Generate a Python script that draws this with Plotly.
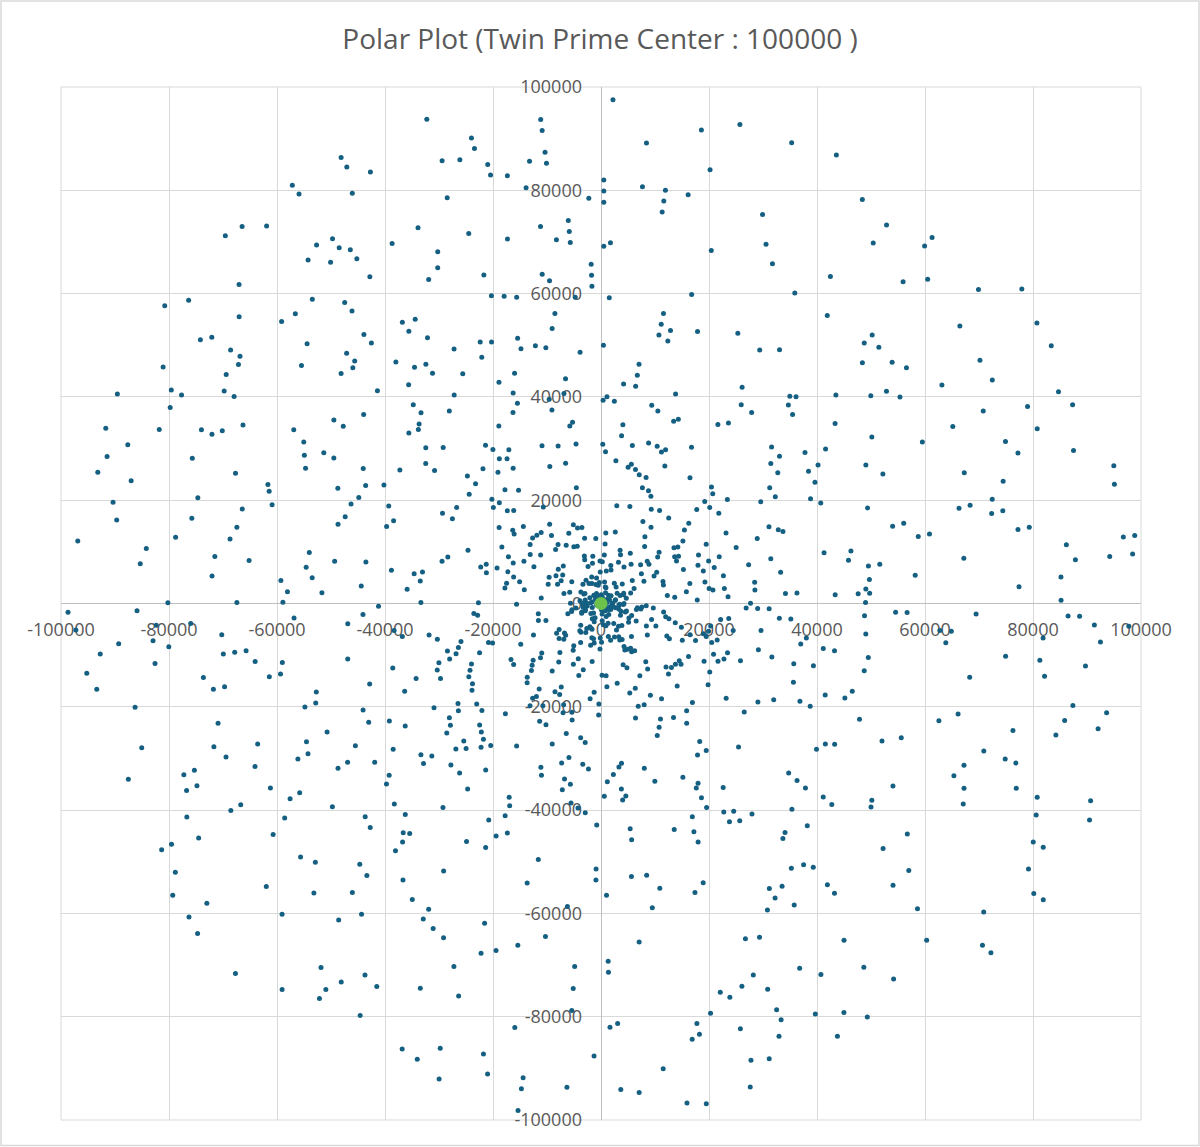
import numpy as np
import plotly.graph_objects as go

### DATA ###
# twin prime centers n (n-1 and n+1 both prime) up to the limit in the title,
# plotted in polar form: radius = n, angle = n radians
limit = 100000
sieve = np.ones(limit + 2, dtype=bool)
sieve[:2] = False
for p in range(2, int((limit + 2) ** 0.5) + 1):
    if sieve[p]:
        sieve[p * p::p] = False
centers = [n for n in range(4, limit + 1) if sieve[n - 1] and sieve[n + 1]]

x_vals = [n * np.cos(n) for n in centers]
y_vals = [n * np.sin(n) for n in centers]

center_point_x = [0]
center_point_y = [0]

tick_vals = [-100000, -80000, -60000, -40000, -20000, 0, 20000, 40000, 60000, 80000, 100000]
tick_text = [str(v) for v in tick_vals]

### STYLE ###
grey_text = '#595959'
grid_col = '#d9d9d9'
axis_col = '#bfbfbf'
font_family = 'Open Sans'

points = go.Scatter(x=x_vals, y=y_vals,
                    mode='markers', name='Twin prime centers',
                    marker={'color': '#156082', 'size': 5, 'line': {'width': 0}},
                    hovertemplate='%{x:.0f}, %{y:.0f}<extra></extra>')

origin = go.Scatter(x=center_point_x, y=center_point_y,
                    mode='markers', name='Center',
                    marker={'color': '#6cc24a', 'size': 13, 'line': {'width': 0}},
                    hoverinfo='skip')

axis_common = dict(range=[-100000, 100000],
                   tickmode='array', tickvals=tick_vals, ticktext=tick_text,
                   showgrid=True, gridcolor=grid_col, gridwidth=1,
                   zeroline=True, zerolinecolor=axis_col, zerolinewidth=1,
                   showline=False, ticks='', layer='below traces',
                   tickfont={'family': font_family, 'size': 18, 'color': grey_text},
                   fixedrange=True)

layout = go.Layout(title={'text': 'Polar Plot (Twin Prime Center : 100000 )',
                          'x': 0.5, 'xanchor': 'center', 'y': 0.966, 'yanchor': 'middle',
                          'font': {'family': font_family, 'size': 28, 'color': grey_text}},
                   width=1200, height=1147,
                   margin={'l': 61, 'r': 59, 't': 87, 'b': 27},
                   paper_bgcolor='white', plot_bgcolor='white',
                   showlegend=False,
                   xaxis=dict(axis_common, anchor='free', position=0.5, ticklabelstandoff=13),
                   yaxis=dict(axis_common, anchor='free', position=0.5, ticklabelstandoff=19),
                   shapes=[
                       # plot-area frame
                       dict(type='rect', xref='paper', yref='paper', x0=0, x1=1, y0=0, y1=1,
                            line={'color': grid_col, 'width': 1}, layer='below'),
                       # outer chart border
                       dict(type='rect', xref='paper', yref='paper',
                            x0=-60 / 1080, x1=1138 / 1080, y0=-25.5 / 1033, y1=1119 / 1033,
                            line={'color': grid_col, 'width': 1.5}, layer='below'),
                   ])

fig = go.Figure(data=[points, origin], layout=layout)
# drop the browser's default page margin so the chart sits at the window corner
fig.write_html("out.html",
               config={'displayModeBar': False},
               post_script="document.body.style.margin='0';document.body.style.overflow='hidden';")
